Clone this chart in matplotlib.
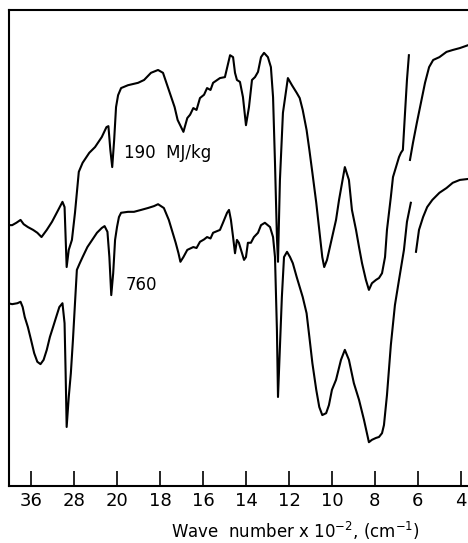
import matplotlib
matplotlib.use("Agg")
import matplotlib.pyplot as plt
import numpy as np

plt.rcParams["font.family"] = ["DejaVu Sans"]
plt.rcParams["mathtext.default"] = "regular"

# Wave number (x 10^2 cm^-1) and relative transmittance (%)
# 190 MJ/kg spectrum, main pen trace
w_190 = [40.29, 39.51, 38.73, 37.95, 37.37, 36.59, 35.61, 34.83, 34.05, 33.07,
         32.10, 31.12, 30.15, 29.76, 29.37, 28.98, 28.39, 27.82, 27.11, 26.40,
         25.16, 24.09, 22.84, 21.96, 21.60, 21.24, 20.89, 20.53, 20.18, 19.95,
         19.81, 19.49, 19.02, 18.74, 18.42, 18.09, 17.86, 17.59, 17.32, 17.18,
         16.91, 16.73, 16.60, 16.45, 16.30, 16.14, 15.95, 15.81, 15.65, 15.53,
         15.21, 14.98, 14.74, 14.60,
         14.51, 14.42, 14.28, 14.14, 14.00, 13.86, 13.72, 13.58, 13.44, 13.30,
         13.16, 12.98, 12.84, 12.74, 12.65, 12.56, 12.51, 12.42, 12.28, 12.05,
         11.86, 11.64, 11.50, 11.36, 11.18, 11.05, 10.91, 10.73, 10.59, 10.45,
         10.36, 10.23, 10.05, 9.81, 9.67, 9.40, 9.21, 9.07, 8.88, 8.74,
         8.60, 8.42, 8.28, 8.14, 7.95, 7.81, 7.67, 7.53, 7.44, 7.26,
         7.16, 7.02, 6.88, 6.79, 6.70, 6.60, 6.51, 6.42]
t_190 = [54.8, 54.8, 55.3, 55.9, 55.0, 54.4, 53.8, 53.2, 52.3, 53.8,
         55.5, 57.6, 59.7, 58.6, 46.0, 49.6, 51.7, 57.4, 66.0, 67.9,
         70.0, 71.2, 73.3, 75.4, 75.6, 70.6, 67.0, 72.7, 79.6, 82.1,
         83.6, 84.2, 84.7, 85.3, 86.8, 87.4, 86.8, 83.2, 79.6, 76.9,
         74.4, 77.3, 78.0, 79.4, 79.0, 81.5, 82.2, 83.6, 83.2, 84.7,
         85.7, 85.9, 90.5, 90.1,
         86.8, 85.3, 84.9, 81.7, 75.8, 79.6, 85.3, 85.9, 87.0, 90.1,
         91.0, 90.1, 88.0, 81.7, 67.9, 52.3, 47.1, 64.3, 78.4, 85.7,
         84.2, 82.6, 81.5, 79.0, 74.8, 70.6, 65.8, 59.5, 53.8, 48.1,
         46.0, 47.5, 51.1, 55.9, 60.1, 67.0, 64.3, 58.0, 53.8, 50.2,
         46.8, 43.3, 41.2, 42.6, 43.3, 43.7, 44.7, 48.1, 53.8, 60.7,
         64.9, 67.0, 69.1, 70.0, 70.6, 78.4, 85.3, 90.5]

# 190 MJ/kg, trace after the chart scale change
w_190_end = [6.37, 6.23, 6.05, 5.86, 5.67, 5.48, 5.29, 5.00, 4.67, 4.38, 4.05, 3.67]
t_190_end = [68.5, 72.1, 76.3, 80.5, 84.7, 88.0, 89.5, 90.1, 91.2, 91.6, 92.0, 92.6]

# 760 MJ/kg spectrum, main pen trace
w_760 = [40.29, 39.51, 38.54, 37.95, 37.56, 37.17, 36.59, 36.00, 35.41, 34.83,
         34.24, 33.66, 33.07, 32.49, 31.90, 31.32, 30.73, 30.15, 29.76, 29.56,
         29.37, 28.98, 28.59, 28.20, 27.82, 27.47, 26.93, 26.40, 25.51, 24.62,
         23.73, 22.84, 22.31, 21.78, 21.42, 21.07, 20.71, 20.36, 20.00, 19.91,
         19.81, 19.49, 19.21, 18.88, 18.56, 18.28, 18.09, 17.82, 17.59, 17.41,
         17.27, 17.14, 17.05, 16.91, 16.73, 16.45, 16.30, 16.14, 15.95, 15.81,
         15.65, 15.53, 15.21,
         15.07, 14.88, 14.79, 14.70, 14.60, 14.51, 14.42, 14.33, 14.23, 14.09,
         14.00, 13.91, 13.77, 13.63, 13.44, 13.30, 13.12, 12.88, 12.74, 12.65,
         12.56, 12.51, 12.42, 12.33, 12.23, 12.09, 11.95, 11.82, 11.64, 11.50,
         11.36, 11.18, 11.05, 10.91, 10.73, 10.59, 10.45, 10.27, 10.14, 10.00,
         9.81, 9.58, 9.40, 9.21, 8.98, 8.74, 8.51, 8.28, 8.14, 7.95,
         7.81, 7.67, 7.58, 7.44, 7.26, 7.07, 6.88, 6.65, 6.51, 6.33]
t_760 = [38.4, 38.2, 38.4, 38.7, 37.6, 35.5, 33.4, 30.7, 27.9, 26.1,
         25.6, 26.5, 28.6, 31.3, 33.4, 35.5, 37.6, 38.4, 34.2, 23.7,
         12.4, 18.7, 23.7, 30.7, 38.4, 45.4, 46.8, 48.1, 50.2, 51.7,
         53.2, 54.2, 54.6, 53.4, 48.1, 40.1, 44.7, 51.7, 54.4, 56.5,
         57.4, 57.6, 57.6, 58.0, 58.4, 58.8, 59.2, 58.4, 55.9, 53.2,
         51.1, 48.9, 47.1, 48.1, 49.6, 50.2, 50.0, 51.3, 51.8, 52.3,
         52.0, 53.2, 53.8,
         55.3, 57.4, 58.0, 55.9, 52.3, 48.9, 51.7, 51.1, 49.6, 47.5,
         48.1, 51.1, 51.1, 52.3, 53.2, 54.8, 55.3, 54.4, 52.3, 48.1,
         32.8, 18.7, 29.2, 39.7, 48.1, 49.2, 48.1, 46.8, 43.9, 41.8,
         39.7, 36.3, 31.3, 25.8, 20.2, 16.6, 14.9, 15.3, 17.0, 20.2,
         22.3, 26.5, 28.6, 26.5, 21.6, 18.1, 13.9, 9.2, 9.7, 10.1,
         10.3, 11.1, 12.8, 19.1, 29.6, 38.0, 43.3, 49.6, 55.5, 59.5]

# 760 MJ/kg, trace after the chart scale change
w_760_end = [6.09, 5.95, 5.76, 5.57, 5.33, 5.00, 4.67, 4.38, 4.05, 3.67]
t_760_end = [49.2, 53.8, 56.5, 58.6, 60.1, 61.6, 62.6, 63.7, 64.3, 64.5]

tick_values = [36, 28, 20, 18, 16, 14, 12, 10, 8, 6, 4]


# Chart paper is compressed above 2000 cm^-1 (4x)
def forward(w):
    w = np.asarray(w, dtype=float)
    return np.where(w >= 20, w / 8.0, w / 2.0 - 7.5)


def inverse(p):
    p = np.asarray(p, dtype=float)
    return np.where(p >= 2.5, p * 8.0, (p + 7.5) * 2.0)


fig = plt.figure(figsize=(4.68, 5.43), dpi=100)
ax = fig.add_axes([9 / 468, 57 / 543, 459 / 468, 476 / 543])
ax.set_xscale("function", functions=(forward, inverse))

line_kw = dict(color="black", linewidth=1.5, solid_joinstyle="round")
ax.plot(w_190, t_190, **line_kw)
ax.plot(w_190_end, t_190_end, **line_kw)
ax.plot(w_760, t_760, **line_kw)
ax.plot(w_760_end, t_760_end, **line_kw)

ax.text(19.67, 70.0, "190  MJ/kg", fontsize=12, ha="left", va="center")
ax.text(19.58, 42.2, "760", fontsize=12, ha="left", va="center")

ax.set_xlim(40.1, 3.67)
ax.set_ylim(0, 100)

ax.set_xticks(tick_values)
ax.set_xticklabels([str(v) for v in tick_values])
ax.xaxis.set_minor_locator(matplotlib.ticker.NullLocator())
ax.set_yticks([])
ax.tick_params(axis="x", direction="in", length=11, width=1.2,
               pad=4, labelsize=13)

for side in ["left", "top", "bottom"]:
    ax.spines[side].set_linewidth(1.5)
ax.spines["right"].set_visible(False)

fig.text(295 / 468, 12 / 543, "Wave  number x 10$^{-2}$, (cm$^{-1}$)",
         fontsize=12, ha="center", va="center")

fig.savefig("out.png", dpi=100)
